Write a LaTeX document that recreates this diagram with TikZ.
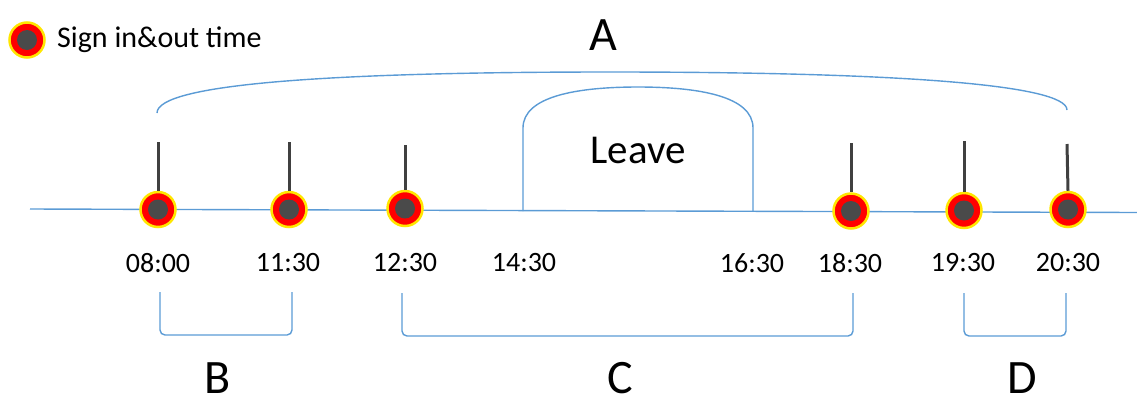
\documentclass[tikz,border=0pt]{standalone}
\usepackage{fontspec}
\setmainfont{Carlito}
\definecolor{lineblue}{HTML}{5B9BD5}
\definecolor{stemgray}{HTML}{404040}
\definecolor{dotgray}{HTML}{4A4A4A}
\definecolor{dotyellow}{HTML}{FFE600}
\begin{document}
\begin{tikzpicture}[x=1pt,y=-1pt,
  blueline/.style={draw=lineblue,line width=1.4pt},
  bracketline/.style={draw=lineblue,line width=1.4pt,rounded corners=5pt},
  stem/.style={draw=stemgray,line width=3pt},
  dot/.style={circle,inner sep=0pt,minimum size=35pt,fill=red,draw=dotyellow,line width=2.5pt,
    path picture={\fill[dotgray] (path picture bounding box.center) circle (10pt);}},
  timelabel/.style={font=\fontsize{28}{32}\selectfont,inner sep=0pt},
  biglabel/.style={font=\fontsize{48}{54}\selectfont,inner sep=0pt},
  leavelabel/.style={font=\fontsize{41}{46}\selectfont,inner sep=0pt},
  legendlabel/.style={font=\fontsize{30}{34}\selectfont,inner sep=0pt,anchor=west}]
\useasboundingbox (0,0) rectangle (1137,405);

% timeline
\coordinate (tlL) at (30,209);
\coordinate (tlR) at (1137,212.5);
\draw[blueline] (tlL) -- (tlR);

% leave bracket
\coordinate (lv1) at (523,211);
\coordinate (lv2) at (753,211.5);
\coordinate (lv1t) at (523,128);
\coordinate (lv2t) at (753,128);
\draw[blueline] (lv1) -- (lv1t) .. controls (523,96) and (578,87) .. (638,87)
  .. controls (698,87) and (753,96) .. (lv2t) -- (lv2);
\node[leavelabel] (leave) at (638,150) {Leave};

% stems
\coordinate (s1) at (158,142);
\coordinate (s2) at (289,142);
\coordinate (s3) at (405,145);
\coordinate (s4) at (851,143);
\coordinate (s5) at (964,141);
\coordinate (s6) at (1067,144);

% dots
\node[dot] (d1) at (158,209.5) {};
\node[dot] (d2) at (289,209.5) {};
\node[dot] (d3) at (405,208.5) {};
\node[dot] (d4) at (851,211) {};
\node[dot] (d5) at (964,210.5) {};
\node[dot] (d6) at (1068,209.5) {};
\foreach \i in {1,...,6} {\draw[stem] (s\i) -- (d\i.north);}

% time labels
\node[timelabel] (t1) at (158,263) {08:00};
\node[timelabel] (t2) at (288,263) {11:30};
\node[timelabel] (t3) at (405,263) {12:30};
\node[timelabel] (t4) at (524,263) {14:30};
\node[timelabel] (t5) at (752,263) {16:30};
\node[timelabel] (t6) at (850,263) {18:30};
\node[timelabel] (t7) at (963,263) {19:30};
\node[timelabel] (t8) at (1068,263) {20:30};

% A bracket
\coordinate (aL) at (157,113);
\coordinate (aR) at (1067,110);
\draw[blueline] (aL) .. controls (157,84) and (330,72) .. (610,72)
  .. controls (890,72) and (1067,84) .. (aR);
\node[biglabel] (A) at (603,35) {A};

% B, C, D brackets
\coordinate (b1) at (160,292);
\coordinate (b2) at (292,292);
\draw[bracketline] (b1) -- (160,335) -- (292,335) -- (b2);
\node[biglabel] (B) at (218,378) {B};

\coordinate (c1) at (402,293);
\coordinate (c2) at (853,293);
\draw[bracketline] (c1) -- (402,336) -- (853,336) -- (c2);
\node[biglabel] (C) at (620,378) {C};

\coordinate (e1) at (964,293);
\coordinate (e2) at (1066,293);
\draw[bracketline] (e1) -- (964,336) -- (1066,336) -- (e2);
\node[biglabel] (D) at (1022,378) {D};

% legend
\node[dot] (ld) at (27,40) {};
\node[legendlabel] (lt) at (57,40) {Sign in\&out time};
\end{tikzpicture}
\end{document}
